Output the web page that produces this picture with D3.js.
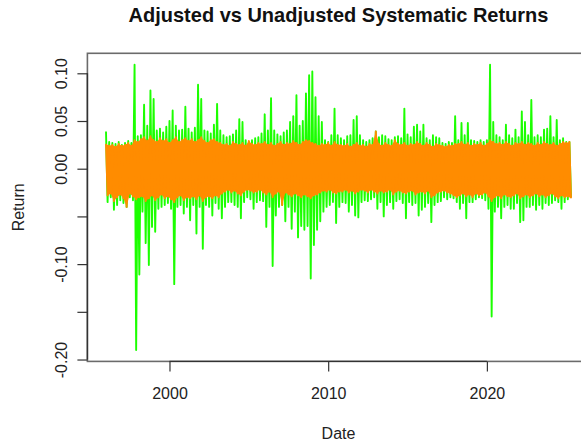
<!DOCTYPE html>
<html>
<head>
<meta charset="utf-8">
<script src="https://cdn.jsdelivr.net/npm/d3@7"></script>
<style>
  body { margin: 0; background: #fff; }
  svg { display: block; font-family: "Liberation Sans", Arial, Helvetica, sans-serif; }
</style>
</head>
<body>
<svg id="chart" width="581" height="447"></svg>
<script>
// sampling of the daily series: one column every 0.2 year starting early 1996,
// each column keeps the high and the low seen in that slice of the picture
const startYear = 1996.0;
const stepYears = 0.2;

// adjusted systematic returns (green), per column high / low
const adjustedHigh = [
  .039,.028,.027,.026,.028,.025,.027,.029,.027,.109,.034,.035,.067,.045,.082,.073,.040,.042,.038,.044,
  .050,.061,.045,.040,.041,.065,.042,.038,.043,.088,.073,.040,.039,.037,.046,.068,.040,.035,.033,.034,
  .036,.040,.052,.049,.030,.028,.030,.032,.033,.037,.057,.040,.074,.040,.036,.034,.038,.040,.049,.055,
  .077,.045,.050,.079,.098,.102,.075,.055,.049,.030,.028,.035,.063,.035,.032,.030,.034,.035,.051,.055,
  .035,.030,.028,.030,.032,.039,.033,.035,.034,.031,.030,.033,.034,.032,.063,.036,.033,.044,.046,.039,
  .046,.032,.030,.035,.033,.032,.027,.026,.028,.027,.055,.030,.048,.035,.048,.030,.029,.028,.030,.028,
  .030,.109,.049,.035,.033,.030,.046,.035,.032,.041,.033,.060,.049,.035,.072,.033,.035,.033,.041,.042,
  .055,.033,.051,.030,.032,.028,.028
];
const adjustedLow = [
  -.035,-.030,-.043,-.038,-.033,-.036,-.040,-.030,-.033,-.190,-.111,-.045,-.078,-.101,-.061,-.066,-.042,-.040,-.038,-.036,
  -.042,-.121,-.040,-.038,-.047,-.040,-.054,-.038,-.068,-.040,-.084,-.038,-.040,-.049,-.036,-.042,-.052,-.040,-.035,-.035,
  -.038,-.040,-.052,-.035,-.030,-.032,-.042,-.035,-.033,-.034,-.061,-.040,-.102,-.049,-.040,-.038,-.055,-.040,-.063,-.045,
  -.072,-.060,-.064,-.060,-.115,-.080,-.064,-.055,-.045,-.040,-.038,-.035,-.057,-.040,-.035,-.036,-.045,-.038,-.049,-.051,
  -.035,-.033,-.034,-.032,-.030,-.042,-.035,-.050,-.038,-.035,-.042,-.034,-.032,-.036,-.052,-.035,-.038,-.036,-.049,-.043,
  -.040,-.036,-.056,-.038,-.035,-.034,-.030,-.032,-.030,-.031,-.035,-.042,-.036,-.052,-.035,-.035,-.032,-.030,-.031,-.033,
  -.042,-.155,-.045,-.040,-.052,-.040,-.038,-.042,-.042,-.036,-.056,-.054,-.040,-.040,-.038,-.043,-.038,-.042,-.036,-.038,
  -.036,-.033,-.035,-.042,-.035,-.032,-.030
];

// unadjusted systematic returns (orange), per column high / low
const unadjustedHigh = [
  .026,.024,.025,.023,.026,.024,.025,.027,.024,
  .030,.028,.031,.033,.029,.034,.030,.028,.032,.029,.031,.027,.030,.033,.028,.030,.032,.029,.031,.028,.030,.033,.029,.027,.030,.031,.028,
  .027,.025,.026,.024,.028,.026,.025,.027,.024,.029,.026,.025,.027,.026,.028,.025,.027,.024,.026,.028,.025,.027,.026,.029,.027,.025,.028,.030,.029,.027,.026,.024,.026,.025,.027,.024,.028,.025,
  .025,.024,.026,.023,.025,.027,.024,.025,.023,.026,.025,.039,.026,.024,.027,.025,.024,.030,.026,.025,.027,.024,.026,.025,.028,.026,.024,.027,.025,.023,.026,.025,.024,.023,.025,.024,.026,
  .026,.028,.025,.027,.024,.026,.025,.027,.024,.026,.030,.028,.026,.027,.025,.028,.026,.024,.027,.026,.028,.025,.027,.026,.024,.027,.025,.028,.026,.025,.027,.024,.026,.028,.027,.028
];
const unadjustedLow = [
  -.028,-.026,-.034,-.030,-.027,-.031,-.040,-.026,-.029,
  -.032,-.030,-.029,-.034,-.031,-.028,-.033,-.030,-.027,-.031,-.029,-.032,-.035,-.030,-.028,-.033,-.030,-.031,-.029,-.032,-.028,-.034,-.030,-.029,-.031,-.028,-.030,
  -.026,-.024,-.022,-.025,-.023,-.026,-.028,-.024,-.022,-.023,-.025,-.024,-.022,-.025,-.027,-.024,-.030,-.026,-.024,-.038,-.025,-.027,-.029,-.026,-.028,-.030,-.027,-.029,-.031,-.028,-.027,-.025,-.023,-.024,-.022,-.025,-.026,-.024,
  -.024,-.022,-.025,-.023,-.026,-.024,-.022,-.023,-.025,-.022,-.024,-.026,-.023,-.025,-.024,-.022,-.027,-.024,-.023,-.025,-.026,-.024,-.023,-.027,-.025,-.024,-.026,-.023,-.030,-.028,-.025,-.024,-.023,-.025,-.026,-.028,-.030,
  -.028,-.026,-.029,-.027,-.030,-.026,-.028,-.027,-.025,-.029,-.034,-.030,-.028,-.031,-.027,-.029,-.030,-.028,-.026,-.031,-.029,-.027,-.030,-.028,-.026,-.029,-.027,-.030,-.028,-.026,-.029,-.031,-.028,-.030,-.029,-.031
];

const xTicks = [2000, 2010, 2020];
const yTicks = [-0.20, -0.15, -0.10, -0.05, 0.00, 0.05, 0.10];
const yTickLabels = ["-0.20", "", "-0.10", "", "0.00", "0.05", "0.10"];

const chartTitle = "Adjusted vs Unadjusted Systematic Returns";
const xTitle = "Date";
const yTitle = "Return";

// plot region (R style box, right side runs past the picture)
const plot = { left: 87.4, top: 53.3, right: 589.6, bottom: 361.4 };
const tickLen = 10;
const fontSize = 16;

const svg = d3.select("#chart");

// R pads the data range by 4% on each side
const lastYear = startYear + stepYears * (adjustedHigh.length - 1) + stepYears / 2;
const xPad = (lastYear - startYear) * 0.04;
const x = d3.scaleLinear()
  .domain([startYear - xPad, lastYear + xPad])
  .range([plot.left, plot.right]);

const yMin = d3.min(adjustedLow), yMax = d3.max(adjustedHigh);
const yPad = (yMax - yMin) * 0.04;
const y = d3.scaleLinear()
  .domain([yMin - yPad, yMax + yPad])
  .range([plot.bottom, plot.top]);

// turn high/low columns into the zig-zag the dense daily line makes
const to_points = function(highs, lows){
  const pts = [];
  highs.forEach((h, i) => {
    const t = startYear + stepYears * i;
    pts.push({ t: t, v: h });
    pts.push({ t: t + stepYears / 2, v: lows[i] });
  });
  return pts;
}
// the same columns as a high/low band: the orange core is solid in the picture
const to_band = function(highs, lows){
  return highs.map((h, i) => ({ t: startYear + stepYears * i, hi: h, lo: lows[i] }));
}

const line = d3.line()
  .x(d => x(d.t))
  .y(d => y(d.v));

const band = d3.area()
  .x1(d => x(d.t))
  .x0(d => x(d.t + stepYears / 2))
  .y1(d => y(d.hi))
  .y0(d => y(d.lo));

svg.append("clipPath").attr("id", "plotclip")
  .append("rect")
  .attr("x", plot.left).attr("y", plot.top)
  .attr("width", plot.right - plot.left).attr("height", plot.bottom - plot.top);

const series = [
  { name: "adjusted", color: "#1cff00", highs: adjustedHigh, lows: adjustedLow, solid: false },
  { name: "unadjusted", color: "#ff8c00", highs: unadjustedHigh, lows: unadjustedLow, solid: true }
];

const gSeries = svg.append("g")
  .attr("clip-path", "url(#plotclip)")
  .selectAll("g")
  .data(series)
  .join("g")
  .attr("class", d => `series ${d.name}`);

gSeries.filter(d => d.solid)
  .append("path")
  .attr("d", d => band(to_band(d.highs, d.lows)))
  .attr("fill", d => d.color)
  .attr("stroke", "none");

gSeries.append("path")
  .attr("d", d => line(to_points(d.highs, d.lows)))
  .attr("fill", "none")
  .attr("stroke", d => d.color)
  .attr("stroke-width", 1.9)
  .attr("stroke-linejoin", "round");

// box round the plot
svg.append("rect")
  .attr("x", plot.left).attr("y", plot.top)
  .attr("width", plot.right - plot.left).attr("height", plot.bottom - plot.top)
  .attr("fill", "none")
  .attr("stroke", "#6b6b6b")
  .attr("stroke-width", 1.6);

// x axis, line only spans first to last tick like R
const gx = svg.append("g")
  .attr("transform", `translate(0,${plot.bottom})`)
  .call(d3.axisBottom(x).tickValues(xTicks).tickSize(tickLen).tickFormat(d3.format("d")));
gx.select(".domain")
  .attr("d", `M${x(xTicks[0])},0H${x(xTicks[xTicks.length - 1])}`)
  .attr("stroke", "#333").attr("stroke-width", 1.4);
gx.selectAll(".tick line").attr("stroke", "#333").attr("stroke-width", 1.2);
gx.selectAll(".tick text")
  .attr("y", 37.6).attr("dy", null)
  .attr("fill", "#222")
  .style("font-size", `${fontSize}px`)
  .style("font-family", "inherit");

// y axis with rotated labels, dropped labels where R skips them
const gy = svg.append("g")
  .attr("transform", `translate(${plot.left},0)`)
  .call(d3.axisLeft(y).tickValues(yTicks).tickSize(tickLen)
    .tickFormat((d, i) => yTickLabels[i]));
gy.select(".domain")
  .attr("d", `M0,${y(yTicks[0])}V${y(yTicks[yTicks.length - 1])}`)
  .attr("stroke", "#333").attr("stroke-width", 1.4);
gy.selectAll(".tick line").attr("stroke", "#333").attr("stroke-width", 1.2);
gy.selectAll(".tick text")
  .attr("transform", "rotate(-90)")
  .attr("x", 0).attr("y", -20.4).attr("dy", null)
  .attr("text-anchor", "middle")
  .attr("fill", "#222")
  .style("font-size", `${fontSize}px`)
  .style("font-family", "inherit");

// titles
const midX = (plot.left + plot.right) / 2;
const title = svg.append("text")
  .attr("x", midX).attr("y", 22)
  .attr("text-anchor", "middle")
  .attr("font-weight", "bold")
  .attr("fill", "#111")
  .style("font-size", "17px")
  .text(chartTitle);
// size the title to the width it takes in the picture
const tw = title.node().getComputedTextLength();
title.style("font-size", `${17 * 420 / tw}px`);

svg.append("text")
  .attr("x", midX).attr("y", 439)
  .attr("text-anchor", "middle")
  .attr("fill", "#222")
  .style("font-size", `${fontSize}px`)
  .text(xTitle);

svg.append("text")
  .attr("transform", `translate(24,${(plot.top + plot.bottom) / 2}) rotate(-90)`)
  .attr("text-anchor", "middle")
  .attr("fill", "#222")
  .style("font-size", `${fontSize}px`)
  .text(yTitle);
</script>
</body>
</html>
